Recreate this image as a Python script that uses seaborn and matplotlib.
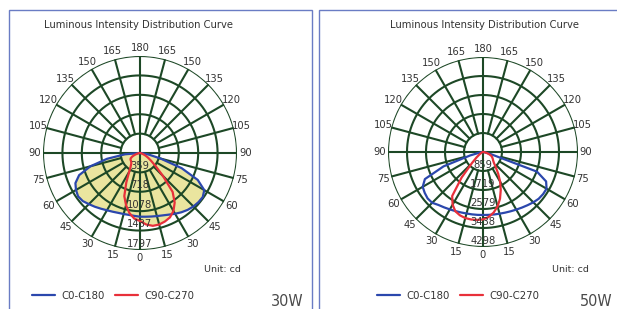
import numpy as np
import seaborn as sns
import matplotlib.pyplot as plt
from matplotlib.patches import Rectangle

sns.set_style("white")
plt.rcParams['font.family'] = ['DejaVu Sans']

# gamma angle from nadir (deg)
gamma = list(range(0, 95, 5))

# 30W lamp (cd)
c0_30 = [1180, 1185, 1195, 1210, 1230, 1260, 1300, 1340, 1375, 1400, 1415, 1420, 1375, 1180, 820, 390, 160, 50, 0]
c180_30 = [1180, 1170, 1165, 1170, 1180, 1200, 1225, 1260, 1300, 1340, 1385, 1400, 1370, 1320, 1200, 950, 620, 280, 0]
c90_30 = [1260, 1330, 1370, 1372, 1350, 1315, 1240, 1120, 940, 600, 380, 250, 170, 110, 60, 30, 10, 0, 0]
c270_30 = [1260, 1220, 1130, 1000, 850, 600, 400, 300, 250, 230, 220, 215, 200, 160, 110, 60, 30, 10, 0]
rings_30 = [359, 718, 1078, 1437, 1797]

# 50W lamp (cd)
c0_50 = [2850, 2855, 2870, 2890, 2920, 2960, 3010, 3070, 3140, 3220, 3290, 3320, 3320, 3150, 2600, 350, 100, 30, 0]
c180_50 = [2850, 2855, 2865, 2880, 2910, 2950, 3000, 3060, 3130, 3250, 3270, 3220, 3150, 2900, 1900, 600, 150, 30, 0]
c90_50 = [3050, 2950, 2780, 2550, 2250, 1900, 1550, 1200, 900, 700, 600, 540, 480, 420, 300, 180, 80, 20, 0]
c270_50 = [3050, 3085, 3100, 3095, 3050, 2960, 2750, 2430, 1500, 700, 380, 200, 120, 70, 40, 20, 10, 0, 0]
rings_50 = [859, 1719, 2579, 3438, 4298]

angle_labels = list(range(0, 195, 15))
series_names = ["C0-C180", "C90-C270"]

GRID = "#1d4826"
BLUE = "#2b47ad"
RED = "#e8303a"
FILL = "#eae59f"
TXT = "#333333"

fig = plt.figure(figsize=(6.17, 3.09), dpi=100)
W, H = 617, 309


def curve(right, left):
    g = np.array(gamma)
    th = np.radians(np.r_[-g[::-1], g[1:]])
    r = np.r_[np.array(left)[::-1], np.array(right)[1:]]
    return th, r


def panel(rect, rings, c0, c180, c90, c270, fill, cx):
    ax = fig.add_axes(rect, projection="polar")
    ax.set_theta_zero_location("S")
    rmax = rings[-1]

    th_b, r_b = curve(c0, c180)
    th_r, r_r = curve(c90, c270)
    if fill:
        ax.fill(th_b, r_b, color=FILL, lw=0, zorder=1)
        ax.fill(th_r, r_r, color=FILL, lw=0, zorder=1)

    # grid: rings + spokes every 15 deg
    full = np.linspace(0, 2 * np.pi, 361)
    for rv in rings:
        ax.plot(full, [rv] * len(full), color=GRID, lw=1.5, zorder=2)
    for a in range(0, 360, 15):
        r0 = 0 if a % 90 == 0 else rings[0]
        ax.plot([np.radians(a)] * 2, [r0, rmax], color=GRID, lw=1.5, zorder=2)

    sns.lineplot(x=th_b, y=r_b, sort=False, estimator=None, ax=ax, color=BLUE, lw=1.6, zorder=3)
    lb = ax.lines[-1]
    sns.lineplot(x=th_r, y=r_r, sort=False, estimator=None, ax=ax, color=RED, lw=1.6, zorder=3)
    lr = ax.lines[-1]

    ax.set_ylim(0, rmax)
    ax.set_xticks([])
    ax.set_yticks([])
    ax.grid(False)
    ax.spines["polar"].set_visible(False)
    ax.set_xlabel("")
    ax.set_ylabel("")

    step = rmax / 5
    for rv in rings:
        ax.text(0, rv - 0.33 * step, str(rv), ha="center", va="center", fontsize=7.2, color=TXT, zorder=4)
    for a in angle_labels:
        for s in ([1] if a in (0, 180) else [1, -1]):
            ax.text(np.radians(s * a), rmax * 1.085, str(a), ha="center", va="center", fontsize=7.2, color=TXT)

    fig.text(cx / W, 1 - 25 / H, "Luminous Intensity Distribution Curve", ha="center", va="center",
             fontsize=7.2, color=TXT)
    return ax, lb, lr


ax1, b1, r1 = panel([43 / W, 59 / H, 194 / W, 194 / H], rings_30, c0_30, c180_30, c90_30, c270_30, True, 139)
ax2, b2, r2 = panel([388 / W, 62 / H, 190 / W, 190 / H], rings_50, c0_50, c180_50, c90_50, c270_50, False, 484)

for ax, b, r, lx, ux, tx, tag in [(ax1, b1, r1, 32, 222, 304, "30W"), (ax2, b2, r2, 377, 570, 613, "50W")]:
    ax.legend([b, r], series_names, loc="center left", bbox_to_anchor=(lx / W, 1 - 296 / H),
              bbox_transform=fig.transFigure, ncol=2, frameon=False, fontsize=7.3, handlelength=2.3,
              handletextpad=0.6, columnspacing=1.0, borderpad=0, borderaxespad=0, labelcolor=TXT)
    fig.text(ux / W, 1 - 270 / H, "Unit: cd", ha="center", va="center", fontsize=6.8, color=TXT)
    fig.text(tx / W, 1 - 301 / H, tag, ha="right", va="center", fontsize=11.5, color="#4a4a4a",
             family=["DejaVu Sans"], fontstretch="condensed", fontweight="light")

# panel frames
fig.add_artist(Rectangle((9 / W, -0.05), 303 / W, 1.05 - 10 / H, transform=fig.transFigure,
                         fill=False, ec="#6a7cc4", lw=1))
fig.add_artist(Rectangle((319 / W, -0.05), 310 / W, 1.05 - 10 / H, transform=fig.transFigure,
                         fill=False, ec="#6a7cc4", lw=1))

fig.savefig("out.png", dpi=100)
